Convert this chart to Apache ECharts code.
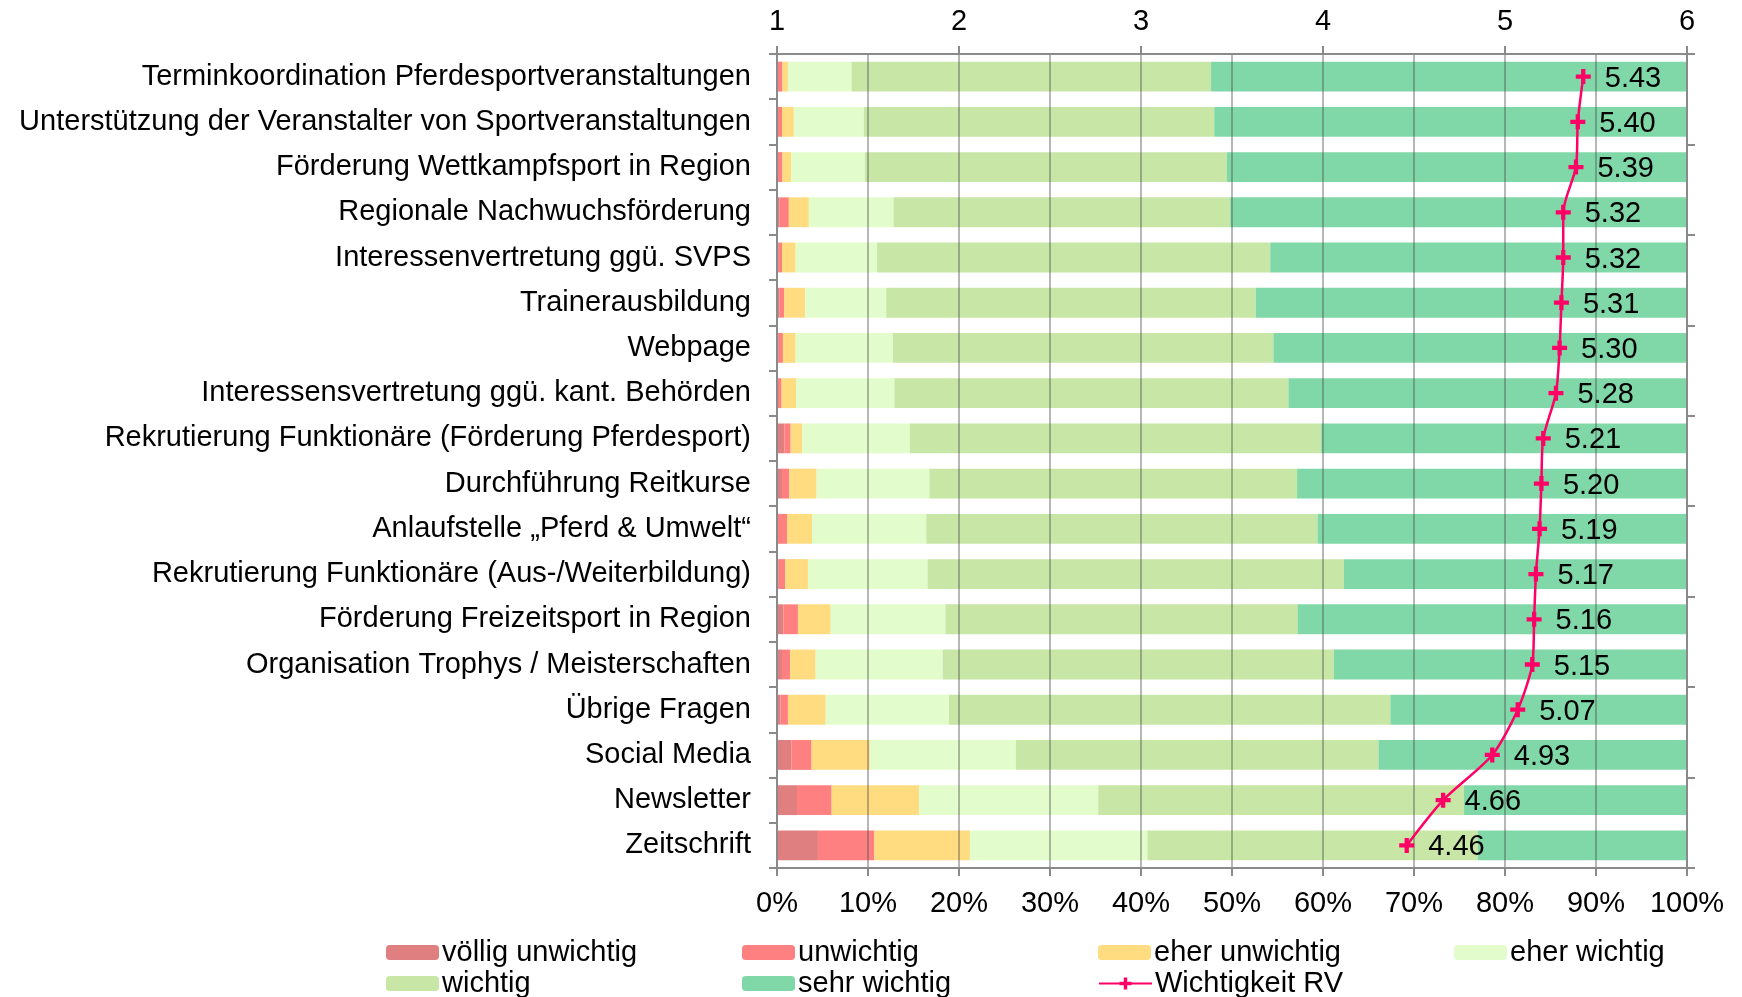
<!DOCTYPE html>
<html>
<head>
<meta charset="utf-8">
<script src="https://cdn.jsdelivr.net/npm/echarts@6/dist/echarts.min.js"></script>
<style>
  html, body { margin: 0; padding: 0; background: #fff; }
  #chart { width: 1742px; height: 997px; }
</style>
</head>
<body>
<div id="chart"></div>
<script>
// categories, top to bottom
const categories = [
  'Terminkoordination Pferdesportveranstaltungen',
  'Unterstützung der Veranstalter von Sportveranstaltungen',
  'Förderung Wettkampfsport in Region',
  'Regionale Nachwuchsförderung',
  'Interessenvertretung ggü. SVPS',
  'Trainerausbildung',
  'Webpage',
  'Interessensvertretung ggü. kant. Behörden',
  'Rekrutierung Funktionäre (Förderung Pferdesport)',
  'Durchführung Reitkurse',
  'Anlaufstelle „Pferd & Umwelt“',
  'Rekrutierung Funktionäre (Aus-/Weiterbildung)',
  'Förderung Freizeitsport in Region',
  'Organisation Trophys / Meisterschaften',
  'Übrige Fragen',
  'Social Media',
  'Newsletter',
  'Zeitschrift'
];

// shares in percent
const voelligUnwichtig = [0, 0, 0, 0.3, 0.2, 0.3, 0.2, 0.1, 0.8, 0.55, 0.1, 0.2, 0.7, 0.55, 0.4, 1.6, 2.2, 4.5];
const unwichtig        = [0.6, 0.55, 0.6, 1.0, 0.35, 0.5, 0.45, 0.4, 0.7, 0.8, 1.0, 0.7, 1.6, 0.9, 0.8, 2.2, 3.8, 6.2];
const eherUnwichtig    = [0.6, 1.3, 0.95, 2.2, 1.5, 2.3, 1.4, 1.6, 1.25, 3.0, 2.75, 2.5, 3.6, 2.8, 4.15, 6.4, 9.6, 10.5];
const eherWichtig      = [7.0, 7.7, 8.1, 9.3, 8.95, 8.9, 10.7, 10.8, 11.85, 12.4, 12.55, 13.15, 12.6, 13.95, 13.55, 16.05, 19.7, 19.5];
const wichtig          = [39.5, 38.5, 39.8, 37.0, 43.2, 40.6, 41.8, 43.3, 45.2, 40.4, 43.0, 45.75, 38.7, 43.0, 48.5, 39.85, 40.2, 36.3];
const sehrWichtig      = [52.3, 51.95, 50.55, 50.2, 45.8, 47.4, 45.45, 43.8, 40.2, 42.85, 40.6, 37.7, 42.8, 38.8, 32.6, 33.9, 24.5, 23.0];

// mean importance (1..6)
const wichtigkeitRV = [5.43, 5.40, 5.39, 5.32, 5.32, 5.31, 5.30, 5.28, 5.21, 5.20, 5.19, 5.17, 5.16, 5.15, 5.07, 4.93, 4.66, 4.46];

const FONT = 'Liberation Sans, Arial, sans-serif';
const FS = 29;
const AXIS_GRAY = '#8a8a8a';

const barDefs = [
  ['völlig unwichtig', voelligUnwichtig, '#df7f7f'],
  ['unwichtig', unwichtig, '#ff8080'],
  ['eher unwichtig', eherUnwichtig, '#ffdc80'],
  ['eher wichtig', eherWichtig, '#e3fccb'],
  ['wichtig', wichtig, '#c8e6a6'],
  ['sehr wichtig', sehrWichtig, '#80d8a8']
];

const series = barDefs.map(([name, data, color]) => ({
  name: name,
  type: 'bar',
  stack: 'total',
  xAxisIndex: 0,
  yAxisIndex: 0,
  barCategoryGap: '34%',
  itemStyle: { color: color },
  data: data
}));

// plus-shaped marker
const plus = 'path://M5,0h4v5h5v4h-5v5h-4v-5h-5v-4h5z';

series.push({
  name: 'Wichtigkeit RV',
  type: 'line',
  xAxisIndex: 1,
  yAxisIndex: 0,
  z: 10,
  smooth: 0.25,
  symbol: plus,
  symbolSize: 15,
  lineStyle: { color: '#ff0066', width: 2.5 },
  itemStyle: { color: '#ff0066' },
  label: {
    show: true,
    position: 'right',
    distance: 14,
    offset: [0, 2],
    color: '#000',
    fontFamily: FONT,
    fontSize: FS,
    formatter: p => p.value.toFixed(2)
  },
  data: wichtigkeitRV
});

// legends laid out on a 4-column grid
const legendNames = ['völlig unwichtig', 'unwichtig', 'eher unwichtig', 'eher wichtig',
                     'wichtig', 'sehr wichtig', 'Wichtigkeit RV'];
const legends = legendNames.map((name, i) => ({
  data: [name],
  left: 386 + (i % 4) * 356,
  top: i < 4 ? 938 : 969,
  itemWidth: 53,
  itemHeight: 15,
  itemGap: 4,
  padding: 0,
  textStyle: { fontFamily: FONT, fontSize: FS, color: '#000', padding: [0, 0, 0, -2] }
}));

const chart = echarts.init(document.getElementById('chart'));
chart.setOption({
  animation: false,
  backgroundColor: '#fff',
  textStyle: { fontFamily: FONT },
  grid: { left: 777, right: 55, top: 54, bottom: 129, containLabel: false },
  legend: legends,
  xAxis: [
    {
      type: 'value',
      position: 'bottom',
      min: 0,
      max: 100,
      interval: 10,
      z: 5,
      axisLine: { show: true, lineStyle: { color: AXIS_GRAY, width: 2 } },
      axisTick: { show: true, length: 8, lineStyle: { color: AXIS_GRAY, width: 2 } },
      axisLabel: { formatter: '{value}%', fontSize: FS, color: '#000', margin: 21, fontFamily: FONT },
      splitLine: { show: true, lineStyle: { color: 'rgba(80,80,80,0.55)', width: 1.5 } }
    },
    {
      type: 'value',
      position: 'top',
      min: 1,
      max: 6,
      interval: 1,
      z: 5,
      axisLine: { show: true, lineStyle: { color: AXIS_GRAY, width: 2 } },
      axisTick: { show: true, length: 8, lineStyle: { color: AXIS_GRAY, width: 2 } },
      axisLabel: { fontSize: FS, color: '#000', margin: 18, fontFamily: FONT },
      splitLine: { show: false }
    }
  ],
  yAxis: [
    {
      type: 'category',
      data: categories,
      inverse: true,
      position: 'left',
      z: 5,
      axisLine: { show: true, lineStyle: { color: AXIS_GRAY, width: 2 } },
      axisTick: { show: true, length: 8, lineStyle: { color: AXIS_GRAY, width: 2 } },
      axisLabel: { fontSize: FS, color: '#000', margin: 26, fontFamily: FONT, padding: [3, 0, 0, 0] },
      splitLine: { show: false }
    },
    {
      type: 'category',
      data: categories,
      inverse: true,
      position: 'right',
      z: 5,
      axisLine: { show: true, lineStyle: { color: AXIS_GRAY, width: 2 } },
      axisTick: { show: true, interval: 1, length: 8, lineStyle: { color: AXIS_GRAY, width: 2 } },
      axisLabel: { show: false },
      splitLine: { show: false }
    }
  ],
  series: series
});
</script>
</body>
</html>
